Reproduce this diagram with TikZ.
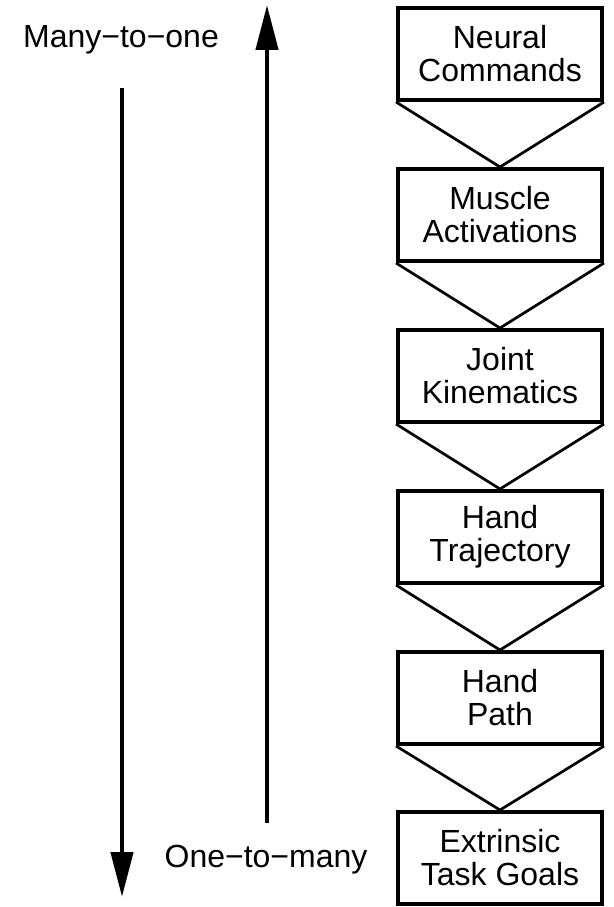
\documentclass[tikz,border=0pt]{standalone}
\usepackage{fontspec}
\setmainfont{Liberation Sans}
\usetikzlibrary{arrows.meta}
\begin{document}
\begin{tikzpicture}[x=1pt,y=-1pt,
  stagebox/.style={draw,line width=4pt,minimum width=204pt,minimum height=92pt,inner sep=0pt,
    align=center,font=\fontsize{32}{33}\selectfont},
  funnel/.style={line width=2.7pt,line join=miter},
  lbl/.style={font=\fontsize{32}{33}\selectfont,inner sep=0pt},
  bigarrow/.style={line width=4.5pt,-{Triangle[width=22pt,length=45pt]}}]
\useasboundingbox (0,0) rectangle (613,907);
\node[stagebox] (b1) at (500,54) {Neural\\Commands};
\node[stagebox] (b2) at (500,215) {Muscle\\Activations};
\node[stagebox] (b3) at (500,376) {Joint\\Kinematics};
\node[stagebox] (b4) at (500,537) {Hand\\Trajectory};
\node[stagebox] (b5) at (500,698) {Hand\\Path};
\node[stagebox] (b6) at (500,858) {Extrinsic\\Task Goals};
\foreach \a/\b in {b1/b2,b2/b3,b3/b4,b4/b5,b5/b6}{
  \draw[funnel] (\a.south west) -- (\b.north) -- (\a.south east);
}
\node[lbl] (many) at (121,40) {Many−to−one};
\node[lbl] (one) at (266,860) {One−to−many};
\coordinate (dstart) at (122,88);
\coordinate (dend) at (122,897);
\coordinate (ustart) at (267,823);
\coordinate (uend) at (267,5);
\draw[bigarrow] (dstart) -- (dend);
\draw[bigarrow] (ustart) -- (uend);
\end{tikzpicture}
\end{document}
